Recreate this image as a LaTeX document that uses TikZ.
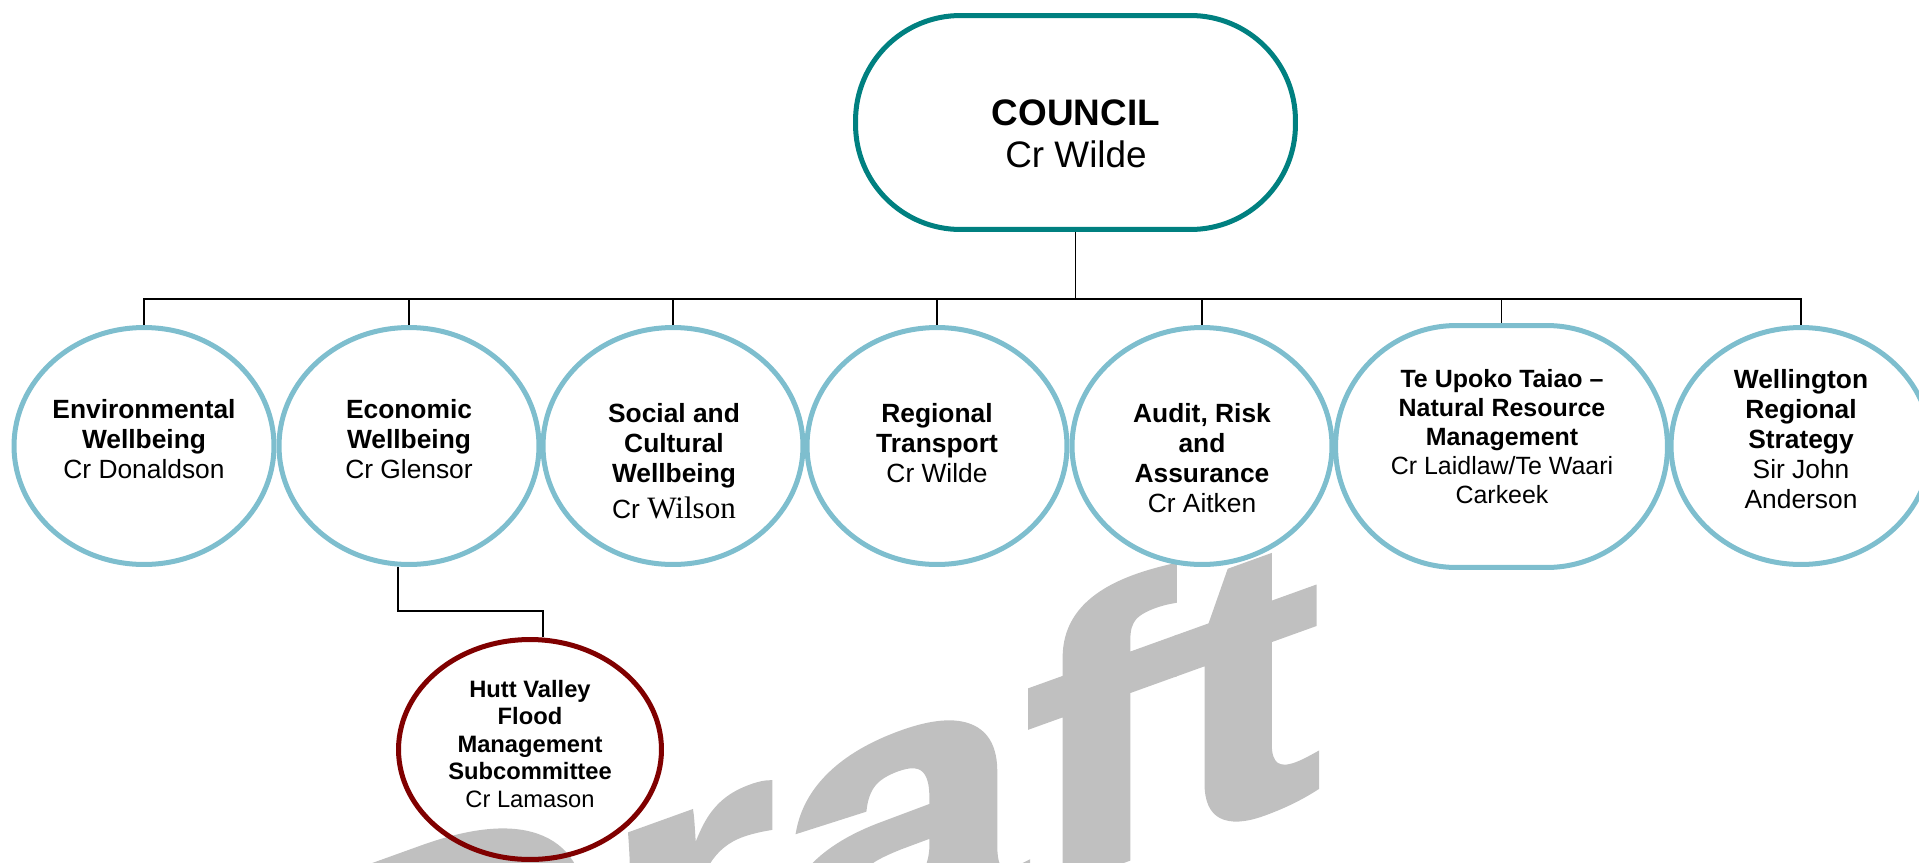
\documentclass[tikz,border=0pt]{standalone}
\usepackage{fontspec}
\setmainfont{Liberation Sans}
\newfontfamily\serifface{Liberation Serif}
\newfontfamily\markface[BoldFeatures={FakeBold=1.5}]{Liberation Sans}
\usetikzlibrary{shapes.geometric,shapes.misc}

\definecolor{unitblue}{RGB}{126,190,206}
\definecolor{councilteal}{RGB}{0,128,128}
\definecolor{subred}{RGB}{128,0,0}
\definecolor{markgray}{RGB}{192,192,192}

\begin{document}
\begin{tikzpicture}[x=0.02cm, y=-0.02cm,
  unit/.style={ellipse, draw=unitblue, line width=2.85pt, minimum width=5.2cm, minimum height=4.74cm, inner sep=0pt},
  wideunit/.style={rounded rectangle, draw=unitblue, line width=2.85pt, minimum width=6.64cm, minimum height=4.84cm, inner sep=0pt},
  chair/.style={rectangle, rounded corners=2.1cm, draw=councilteal, line width=2.85pt, minimum width=8.8cm, minimum height=4.28cm, inner sep=0pt},
  subunit/.style={ellipse, draw=subred, line width=2.85pt, minimum width=5.26cm, minimum height=4.4cm, inner sep=0pt},
  lbl/.style={anchor=north, align=center, inner sep=0pt, font=\fontsize{15pt}{17.1pt}\selectfont},
  widelbl/.style={lbl, font=\fontsize{14.2pt}{16.5pt}\selectfont},
  chairlbl/.style={lbl, font=\fontsize{21pt}{23.9pt}\selectfont},
  sublbl/.style={lbl, font=\fontsize{13.5pt}{15.6pt}\selectfont},
  wmark/.style={anchor=base west, inner sep=0pt, text=markgray, yslant=0.36, xscale=1.16, font=\markface\bfseries\fontsize{219pt}{219pt}\selectfont},
  conn/.style={draw=black, line width=0.8pt}
]

\useasboundingbox (0,0) rectangle (1919,862);
\clip (0,0) rectangle (1919,862);

% === WATERMARK ===
\node[wmark] (draft) at (279.5,1164) {Draft};

% === COUNCIL ===
\node[chair] (council) at (1075.5,122.5) {};
\node[chairlbl] (counciltxt) at (1076,99) {\textbf{COUNCIL}\\Cr Wilde};

% === COMMITTEES ===
\node[unit] (env) at (144,446) {};
\node[lbl] (envtxt) at (144,399) {\textbf{Environmental}\\\textbf{Wellbeing}\\Cr Donaldson};

\node[unit] (econ) at (409,446) {};
\node[lbl] (econtxt) at (409,399) {\textbf{Economic}\\\textbf{Wellbeing}\\Cr Glensor};

\node[unit] (social) at (673,446) {};
\node[lbl] (socialtxt) at (674,403) {\textbf{Social and}\\\textbf{Cultural}\\\textbf{Wellbeing}\\[3.4pt]Cr {\serifface\fontsize{17.7pt}{20pt}\selectfont Wilson}};

\node[unit] (regional) at (937,446) {};
\node[lbl] (regionaltxt) at (937,403) {\textbf{Regional}\\\textbf{Transport}\\Cr Wilde};

\node[unit] (audit) at (1202,446) {};
\node[lbl] (audittxt) at (1202,403) {\textbf{Audit, Risk}\\\textbf{and}\\\textbf{Assurance}\\Cr Aitken};

\node[wideunit] (teupoko) at (1501.5,446.5) {};
\node[widelbl] (teupokotxt) at (1502,369) {\textbf{Te Upoko Taiao –}\\\textbf{Natural Resource}\\\textbf{Management}\\Cr Laidlaw/Te Waari\\Carkeek};

\node[unit] (wrs) at (1801,446) {};
\node[lbl] (wrstxt) at (1801,369) {\textbf{Wellington}\\\textbf{Regional}\\\textbf{Strategy}\\Sir John\\Anderson};

% === SUBCOMMITTEE ===
\node[subunit] (hutt) at (530,749.5) {};
\node[sublbl] (hutttxt) at (530,680) {\textbf{Hutt Valley}\\\textbf{Flood}\\\textbf{Management}\\\textbf{Subcommittee}\\Cr Lamason};

% === CONNECTORS ===
\coordinate (bus) at (0,299);
\draw[conn] (council.south) -- (council.south |- bus);
\draw[conn] (env.north) -- (env.north |- bus) -- (wrs.north |- bus) -- (wrs.north);
\foreach \u in {econ,social,regional,audit,teupoko} {
  \draw[conn] (\u.north) -- (\u.north |- bus);
}
\draw[conn] ([xshift=-0.22cm]econ.south) -- ++(0,44) -| ([xshift=0.26cm]hutt.north);

\end{tikzpicture}
\end{document}
